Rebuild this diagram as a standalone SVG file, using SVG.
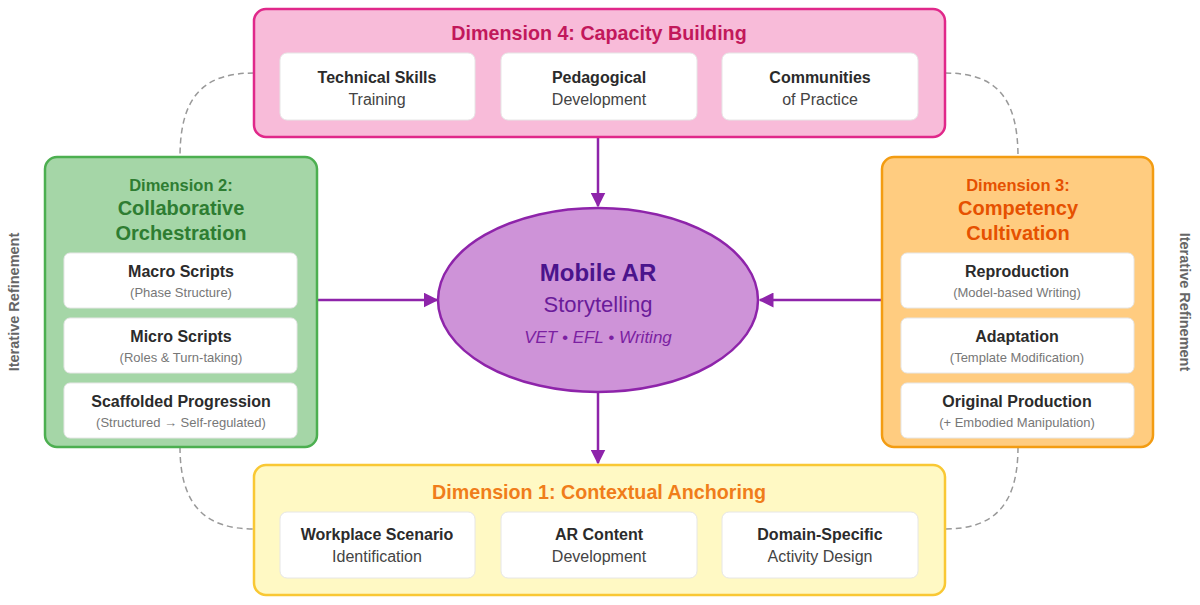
<svg xmlns="http://www.w3.org/2000/svg" width="1200" height="605" viewBox="0 0 1200 605">
<defs>
<marker id="ah" viewBox="0 0 10 10" refX="9" refY="5" markerWidth="6" markerHeight="6" orient="auto-start-reverse" markerUnits="strokeWidth">
<path d="M0,0 L10,5 L0,10 z" fill="#8e24aa"/>
</marker>
<style>
text{font-family:"Liberation Sans",Arial,sans-serif;text-anchor:middle}
.inner{fill:#ffffff;stroke:#e6e6e6;stroke-width:1}
.ib{font-size:16px;font-weight:bold;fill:#2b2b2b}
.is{font-size:16px;fill:#444}
.ss{font-size:13px;fill:#777}
.dash{fill:none;stroke:#999;stroke-width:1.5;stroke-dasharray:6,4}
.conn{fill:none;stroke:#8e24aa;stroke-width:2.5;marker-end:url(#ah)}
.side{font-size:14.5px;font-weight:bold;fill:#666}
</style>
</defs>
<rect width="1200" height="605" fill="#ffffff"/>
<g id="refinement">
<path class="dash" d="M254,73 C205,73 180,95 180,157"/>
<path class="dash" d="M180,447 C180,505 205,529 254,529"/>
<path class="dash" d="M945,73 C994,73 1018,95 1018,157"/>
<path class="dash" d="M1018,447 C1018,505 994,529 945,529"/>
<text class="side" transform="translate(19,302) rotate(-90)">Iterative Refinement</text>
<text class="side" transform="translate(1180,302) rotate(90)">Iterative Refinement</text>
</g>
<g id="connectors">
<line class="conn" x1="598" y1="138" x2="598" y2="206"/>
<line class="conn" x1="317" y1="300" x2="437" y2="300"/>
<line class="conn" x1="882" y1="300" x2="760" y2="300"/>
<line class="conn" x1="598" y1="393" x2="598" y2="463"/>
</g>
<g id="dim4">
<rect x="254" y="9" width="691" height="128" rx="12" fill="#f8bbd9" stroke="#e0288a" stroke-width="2.5"/>
<text x="599" y="40" font-size="19.7" font-weight="bold" fill="#c2185b">Dimension 4: Capacity Building</text>
<rect class="inner" x="280" y="53" width="195" height="67" rx="7"/>
<text class="ib" x="377" y="83">Technical Skills</text>
<text class="is" x="377" y="105">Training</text>
<rect class="inner" x="501" y="53" width="196" height="67" rx="7"/>
<text class="ib" x="599" y="83">Pedagogical</text>
<text class="is" x="599" y="105">Development</text>
<rect class="inner" x="722" y="53" width="196" height="67" rx="7"/>
<text class="ib" x="820" y="83">Communities</text>
<text class="is" x="820" y="105">of Practice</text>
</g>
<g id="dim2">
<rect x="45" y="157" width="272" height="290" rx="12" fill="#a5d6a7" stroke="#4caf50" stroke-width="2.5"/>
<text x="181" y="191" font-size="16.5" font-weight="bold" fill="#2e7d32">Dimension 2:</text>
<text x="181" y="215" font-size="20" font-weight="bold" fill="#2e7d32">Collaborative</text>
<text x="181" y="240" font-size="20" font-weight="bold" fill="#2e7d32">Orchestration</text>
<rect class="inner" x="64" y="253" width="233" height="55" rx="6"/>
<text class="ib" x="181" y="277">Macro Scripts</text>
<text class="ss" x="181" y="297">(Phase Structure)</text>
<rect class="inner" x="64" y="318" width="233" height="55" rx="6"/>
<text class="ib" x="181" y="342">Micro Scripts</text>
<text class="ss" x="181" y="362">(Roles &amp; Turn-taking)</text>
<rect class="inner" x="64" y="383" width="233" height="55" rx="6"/>
<text class="ib" x="181" y="407">Scaffolded Progression</text>
<text class="ss" x="181" y="427" font-size="11.5">(Structured → Self-regulated)</text>
</g>
<g id="dim3">
<rect x="882" y="157" width="271" height="290" rx="12" fill="#ffcc80" stroke="#f39c12" stroke-width="2.5"/>
<text x="1018" y="191" font-size="16.5" font-weight="bold" fill="#e65100">Dimension 3:</text>
<text x="1018" y="215" font-size="20" font-weight="bold" fill="#e65100">Competency</text>
<text x="1018" y="240" font-size="20" font-weight="bold" fill="#e65100">Cultivation</text>
<rect class="inner" x="901" y="253" width="233" height="55" rx="6"/>
<text class="ib" x="1017" y="277">Reproduction</text>
<text class="ss" x="1017" y="297">(Model-based Writing)</text>
<rect class="inner" x="901" y="318" width="233" height="55" rx="6"/>
<text class="ib" x="1017" y="342">Adaptation</text>
<text class="ss" x="1017" y="362">(Template Modification)</text>
<rect class="inner" x="901" y="383" width="233" height="55" rx="6"/>
<text class="ib" x="1017" y="407">Original Production</text>
<text class="ss" x="1017" y="427">(+ Embodied Manipulation)</text>
</g>
<g id="dim1">
<rect x="254" y="465" width="691" height="130" rx="12" fill="#fff9c4" stroke="#f9c834" stroke-width="2.5"/>
<text x="599" y="499" font-size="19.7" font-weight="bold" fill="#f07d1a">Dimension 1: Contextual Anchoring</text>
<rect class="inner" x="280" y="512" width="195" height="66" rx="7"/>
<text class="ib" x="377" y="540">Workplace Scenario</text>
<text class="is" x="377" y="562">Identification</text>
<rect class="inner" x="501" y="512" width="196" height="66" rx="7"/>
<text class="ib" x="599" y="540">AR Content</text>
<text class="is" x="599" y="562">Development</text>
<rect class="inner" x="722" y="512" width="196" height="66" rx="7"/>
<text class="ib" x="820" y="540">Domain-Specific</text>
<text class="is" x="820" y="562">Activity Design</text>
</g>
<g id="center">
<ellipse cx="598" cy="300" rx="160" ry="92" fill="#ce93d8" stroke="#8e24aa" stroke-width="2.5"/>
<text x="598" y="281" font-size="24" font-weight="bold" fill="#4a148c">Mobile AR</text>
<text x="598" y="312" font-size="22" fill="#6a1b9a">Storytelling</text>
<text x="598" y="343" font-size="17" font-style="italic" fill="#7b1fa2">VET • EFL • Writing</text>
</g>
</svg>
